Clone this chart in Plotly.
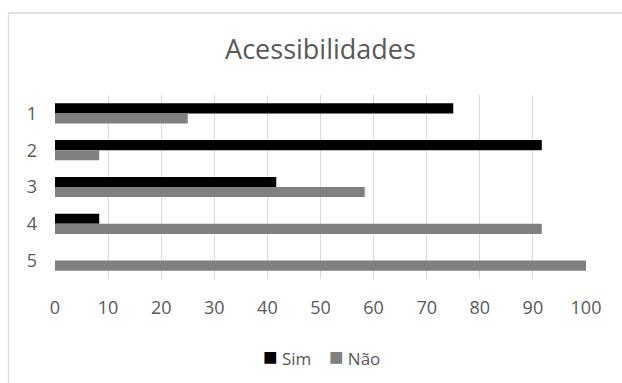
import plotly.graph_objects as go

categories = ["1", "2", "3", "4", "5"]
sim = [75, 91.67, 41.67, 8.33, 0]
nao = [25, 8.33, 58.33, 91.67, 100]
x_ticks = [0, 10, 20, 30, 40, 50, 60, 70, 80, 90, 100]

TEXT = "#595959"
GRID = "#d9d9d9"
SIM_COLOR = "#000000"
NAO_COLOR = "#808080"
FONT = "Open Sans"

fig = go.Figure()
fig.add_trace(go.Bar(y=categories, x=sim, name="Sim", orientation="h",
                     marker=dict(color=SIM_COLOR, line=dict(width=0))))
fig.add_trace(go.Bar(y=categories, x=nao, name="Não", orientation="h",
                     marker=dict(color=NAO_COLOR, line=dict(width=0))))

W, H = 622, 383
L, R, T, B = 55, 36, 95, 104
pw, ph = W - L - R, H - T - B

def px_to_paper_x(px):
    return (px - L) / pw

def px_to_paper_y(py):
    return (H - B - py) / ph

# chart frame: only top and left edges fall inside the canvas
fig.add_shape(type="line", xref="paper", yref="paper",
              x0=px_to_paper_x(8.5), x1=px_to_paper_x(W + 5),
              y0=px_to_paper_y(13), y1=px_to_paper_y(13),
              line=dict(color=GRID, width=1.3))
fig.add_shape(type="line", xref="paper", yref="paper",
              x0=px_to_paper_x(8.5), x1=px_to_paper_x(8.5),
              y0=px_to_paper_y(13), y1=px_to_paper_y(H + 5),
              line=dict(color=GRID, width=1.3))

# compact legend row with square swatches close to their labels
legend_text = "    ".join(
    f"<span style='color:{c};font-size:24px'>■</span> {tr.name}"
    for tr, c in zip(fig.data, [SIM_COLOR, NAO_COLOR])
)
fig.add_annotation(text=legend_text, xref="paper", yref="paper",
                   x=px_to_paper_x(321), y=px_to_paper_y(355),
                   xanchor="center", yanchor="middle", showarrow=False,
                   font=dict(family=FONT, size=17, color=TEXT))

fig.update_layout(
    width=W, height=H,
    margin=dict(l=L, r=R, t=T, b=B),
    paper_bgcolor="white", plot_bgcolor="white",
    barmode="group", bargap=0.45, bargroupgap=0,
    title=dict(text="Acessibilidades", x=0.5, xref="paper", xanchor="center",
               y=1 - 50 / H, yanchor="middle",
               font=dict(family=FONT, size=27, color=TEXT)),
    font=dict(family=FONT, color=TEXT, size=17),
    showlegend=False,
)
fig.update_xaxes(range=[0, 100], tickvals=x_ticks, showgrid=True,
                 gridcolor=GRID, gridwidth=1, zeroline=False,
                 showline=False, ticks="", ticklabelstandoff=16,
                 tickfont=dict(size=18, color=TEXT), fixedrange=True)
fig.update_yaxes(autorange="reversed", showgrid=False, zeroline=False,
                 showline=False, ticks="", ticklabelstandoff=17,
                 tickfont=dict(size=18, color=TEXT), fixedrange=True)

fig.write_html("out.html", config=dict(displayModeBar=False))
